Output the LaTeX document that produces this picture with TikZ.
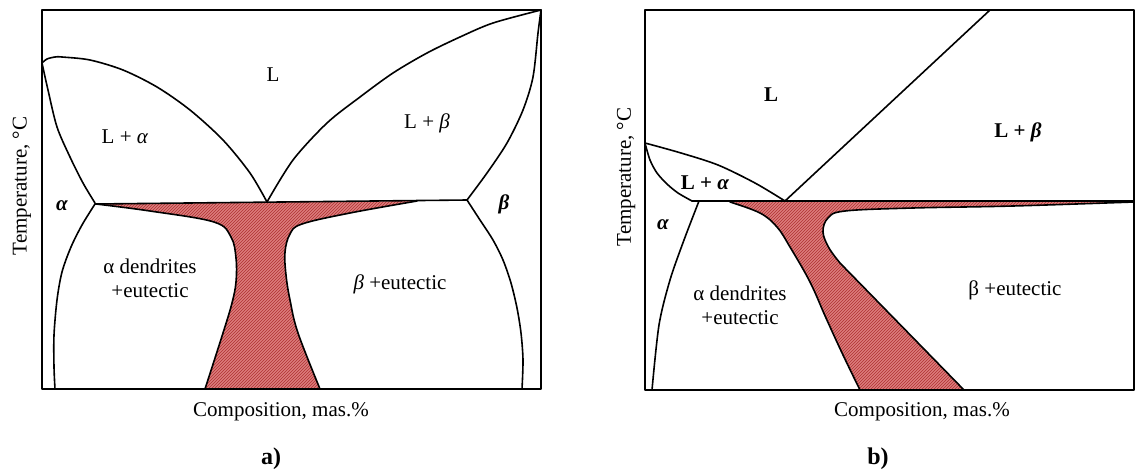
\documentclass[tikz,border=0pt]{standalone}
\usepackage{fontspec}
\setmainfont{Liberation Serif}
\usetikzlibrary{patterns}
\definecolor{eut}{RGB}{220,125,125}
\definecolor{eutln}{RGB}{175,50,50}
\begin{document}
\begin{tikzpicture}[x=1pt,y=-1pt,line join=round,line cap=round,
  ph/.style={line width=1.6pt},
  frame/.style={line width=1.9pt},
  lab/.style={font=\fontsize{21}{24}\selectfont,inner sep=0pt,align=center},
  blab/.style={font=\fontsize{21}{24}\selectfont\bfseries,inner sep=0pt},
  panelcap/.style={font=\fontsize{24}{26}\selectfont\bfseries,inner sep=0pt},
  eutfill/.style={fill=eut,postaction={pattern=north east lines,pattern color=eutln}}]
\useasboundingbox (0,0) rectangle (1136,474);

% ================= panel a =================
% eutectic region
\path[eutfill] (96,204) -- (417,201)
  -- plot[smooth,tension=0.6] coordinates {(417,201) (350,213) (302,224) (290,234) (285,252) (286,275) (290,300) (298,333) (320,389)}
  -- (205,389)
  -- plot[smooth,tension=0.6] coordinates {(205,389) (223,333) (232,303) (236,282) (236,258) (231,237) (214,222) (150,211) (96,204)}
  -- cycle;
\draw[ph] plot[smooth,tension=0.6] coordinates {(417,201) (350,213) (302,224) (290,234) (285,252) (286,275) (290,300) (298,333) (320,389)};
\draw[ph] plot[smooth,tension=0.6] coordinates {(205,389) (223,333) (232,303) (236,282) (236,258) (231,237) (214,222) (150,211) (96,204)};
% liquidus / solidus
\draw[ph] plot[smooth] coordinates {(42,63) (47,59) (55,57) (62,57) (90,60) (123,70) (157,87) (190,110) (223,140) (250,173) (267,202)};
\draw[ph] plot[smooth] coordinates {(42,63) (48,90) (57,127) (70,157) (83,183) (95,203)};
\draw[ph] plot[smooth] coordinates {(267,202) (293,160) (327,123) (360,97) (393,73) (427,53) (460,37) (493,23) (541,10)};
\draw[ph] plot[smooth] coordinates {(541,10) (538,33) (533,77) (523,110) (507,143) (487,173) (467,200)};
% eutectic line
\draw[ph] (95,204) -- (467,200);
% solvus
\draw[ph] plot[smooth] coordinates {(95,204) (82,225) (71,247) (62,272) (57,300) (54,335) (54,367) (55,389)};
\draw[ph] plot[smooth] coordinates {(467,200) (480,220) (493,240) (503,260) (511,283) (517,308) (521,333) (523,360) (522,389)};
% frame
\draw[frame] (42,10) rectangle (541,389);
% labels
\node[lab] (aL) at (273,75) {L};
\node[lab] (aLa) at (125,137) {L + \textit{α}};
\node[lab] (aLb) at (427,123) {L + \textit{β}};
\node[blab] (aAl) at (62,206) {\itshape α};
\node[blab] (aBe) at (504,204) {\itshape β};
\node[lab] (aAd) at (150,278) {α dendrites\\+eutectic};
\node[lab] (aBd) at (400,284) {\textit{β} +eutectic};
\node[lab] (aX) at (281,412) {Composition, mas.\%};
\node[lab,rotate=90] (aT) at (22,186) {Temperature, °C};
\node[panelcap] (aC) at (271,459) {a)};

% ================= panel b =================
\path[eutfill] (730,201) -- (1134,201)
  -- plot[smooth,tension=0.6] coordinates {(1134,202) (1013,206) (913,208) (845,211) (828,218) (823,232) (829,248) (840,263)}
  -- (964,390) -- (860,390)
  -- plot[smooth,tension=0.6] coordinates {(860,390) (843,355) (826,318) (810,282) (790,247) (777,227) (760,213) (730,202)}
  -- cycle;
\draw[ph] plot[smooth,tension=0.6] coordinates {(1134,202) (1013,206) (913,208) (845,211) (828,218) (823,232) (829,248) (840,263)} -- (964,390);
\draw[ph] plot[smooth,tension=0.6] coordinates {(860,390) (843,355) (826,318) (810,282) (790,247) (777,227) (760,213) (730,202)};
% liquidus / solidus
\draw[ph] plot[smooth] coordinates {(645,143) (681,153) (718,165) (755,183) (785,201)};
\draw[ph] plot[smooth] coordinates {(645,143) (650,160) (657,173) (667,184) (678,193) (692,201)};
\draw[ph] (785,201) -- (990,10);
% eutectic line
\draw[ph] (692,201) -- (1134,201);
% solvus
\draw[ph] plot[smooth] coordinates {(699,201) (684,240) (670,280) (659,325) (652,390)};
% frame
\draw[frame] (645,10) rectangle (1134,390);
% labels
\node[blab] (bL) at (771,95) {L};
\node[blab] (bLb) at (1018,132) {L + \textit{β}};
\node[blab] (bLa) at (705,183) {L + \textit{α}};
\node[blab] (bAl) at (663,225) {\itshape α};
\node[lab] (bAd) at (740,305) {α dendrites\\+eutectic};
\node[lab] (bBd) at (1015,290) {β +eutectic};
\node[lab] (bX) at (922,412) {Composition, mas.\%};
\node[lab,rotate=90] (bT) at (626,177) {Temperature, °C};
\node[panelcap] (bC) at (878,459) {b)};
\end{tikzpicture}
\end{document}
